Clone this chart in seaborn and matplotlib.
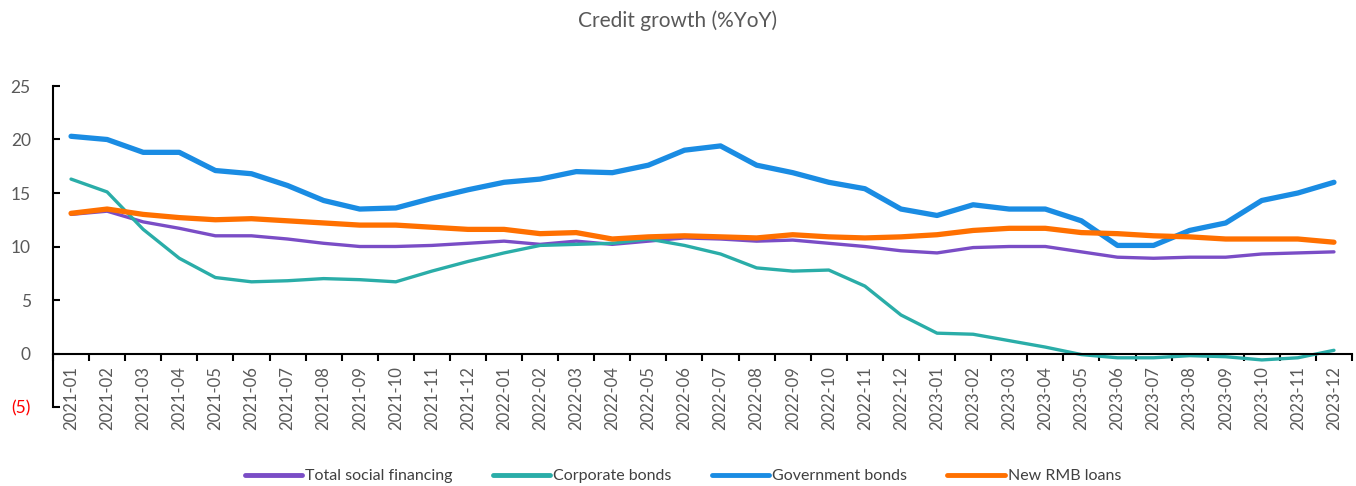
import matplotlib
matplotlib.use("Agg")
import matplotlib.pyplot as plt
import seaborn as sns
import pandas as pd
import numpy as np

months = [f"{y}-{m:02d}" for y in (2021, 2022, 2023) for m in range(1, 13)]

tsf = [13.0, 13.3, 12.3, 11.7, 11.0, 11.0, 10.7, 10.3, 10.0, 10.0, 10.1, 10.3,
       10.5, 10.2, 10.5, 10.2, 10.5, 10.8, 10.7, 10.5, 10.6, 10.3, 10.0, 9.6,
       9.4, 9.9, 10.0, 10.0, 9.5, 9.0, 8.9, 9.0, 9.0, 9.3, 9.4, 9.5]
corp = [16.3, 15.1, 11.6, 8.9, 7.1, 6.7, 6.8, 7.0, 6.9, 6.7, 7.7, 8.6,
        9.4, 10.1, 10.2, 10.3, 10.7, 10.1, 9.3, 8.0, 7.7, 7.8, 6.3, 3.6,
        1.9, 1.8, 1.2, 0.6, -0.1, -0.4, -0.4, -0.2, -0.3, -0.6, -0.4, 0.3]
gov = [20.3, 20.0, 18.8, 18.8, 17.1, 16.8, 15.7, 14.3, 13.5, 13.6, 14.5, 15.3,
       16.0, 16.3, 17.0, 16.9, 17.6, 19.0, 19.4, 17.6, 16.9, 16.0, 15.4, 13.5,
       12.9, 13.9, 13.5, 13.5, 12.4, 10.1, 10.1, 11.5, 12.2, 14.3, 15.0, 16.0]
rmb = [13.1, 13.5, 13.0, 12.7, 12.5, 12.6, 12.4, 12.2, 12.0, 12.0, 11.8, 11.6,
       11.6, 11.2, 11.3, 10.7, 10.9, 11.0, 10.9, 10.8, 11.1, 10.9, 10.8, 10.9,
       11.1, 11.5, 11.7, 11.7, 11.3, 11.2, 11.0, 10.9, 10.7, 10.7, 10.7, 10.4]

series_names = ["Total social financing", "Corporate bonds", "Government bonds", "New RMB loans"]
series_vals = [tsf, corp, gov, rmb]
colors = ["#7A4DC6", "#2AADA8", "#1A8CE3", "#FF7000"]
widths = [2.4, 2.4, 3.8, 3.8]

yticks = [-5, 0, 5, 10, 15, 20, 25]
ytick_labels = ["(5)", "0", "5", "10", "15", "20", "25"]

sns.set_theme(style="white")
plt.rcParams['font.family'] = ['Lato', 'DejaVu Sans']

fig = plt.figure(figsize=(13.56, 4.86), dpi=100)
ax = fig.add_axes([53/1356, 1-407/486, (1352-53)/1356, (407-86)/486])

x = np.arange(len(months))
for name, vals, c, lw in zip(series_names, series_vals, colors, widths):
    df = pd.DataFrame({"x": x, "v": vals})
    sns.lineplot(data=df, x="x", y="v", ax=ax, color=c, linewidth=lw,
                 label=name, solid_capstyle="round")

ax.set_xlim(-0.5, len(months) - 0.5)
ax.set_ylim(-5, 25)
ax.set_xlabel("")
ax.set_ylabel("")

for s in ["top", "right"]:
    ax.spines[s].set_visible(False)
ax.spines["bottom"].set_position(("data", 0))
ax.spines["bottom"].set_color("black")
ax.spines["left"].set_color("black")
ax.spines["bottom"].set_linewidth(1.5)
ax.spines["left"].set_linewidth(1.5)

ax.set_xticks(x)
ax.set_xticklabels(months, rotation=90, fontsize=12, color="#595959")
ax.set_xticks(np.arange(-0.5, len(months)), minor=True)
ax.tick_params(axis="x", which="major", length=0, pad=9)
ax.tick_params(axis="x", which="minor", length=5, width=1.5, direction="out", color="black", bottom=True)

ax.set_yticks(yticks)
ax.set_yticklabels(ytick_labels, fontsize=12.5, color="#595959")
ax.tick_params(axis="y", length=5, width=1.5, direction="in", color="black", left=True, pad=16)
for lab in ax.get_yticklabels():
    if lab.get_text() == "(5)":
        lab.set_color("red")
ax.grid(False)

fig.text(0.5, 0.958, "Credit growth (%YoY)", ha="center", va="center", fontsize=15, color="#595959")

leg = ax.legend(loc="center", bbox_to_anchor=(683/1356, 1 - 476/486), bbox_transform=fig.transFigure,
                ncol=4, frameon=False, fontsize=11.5, handlelength=3.6, handletextpad=0.2,
                columnspacing=2.5, labelcolor="#404040")
for h in leg.get_lines():
    h.set_linewidth(3.5)

fig.savefig("out.png", dpi=100)
